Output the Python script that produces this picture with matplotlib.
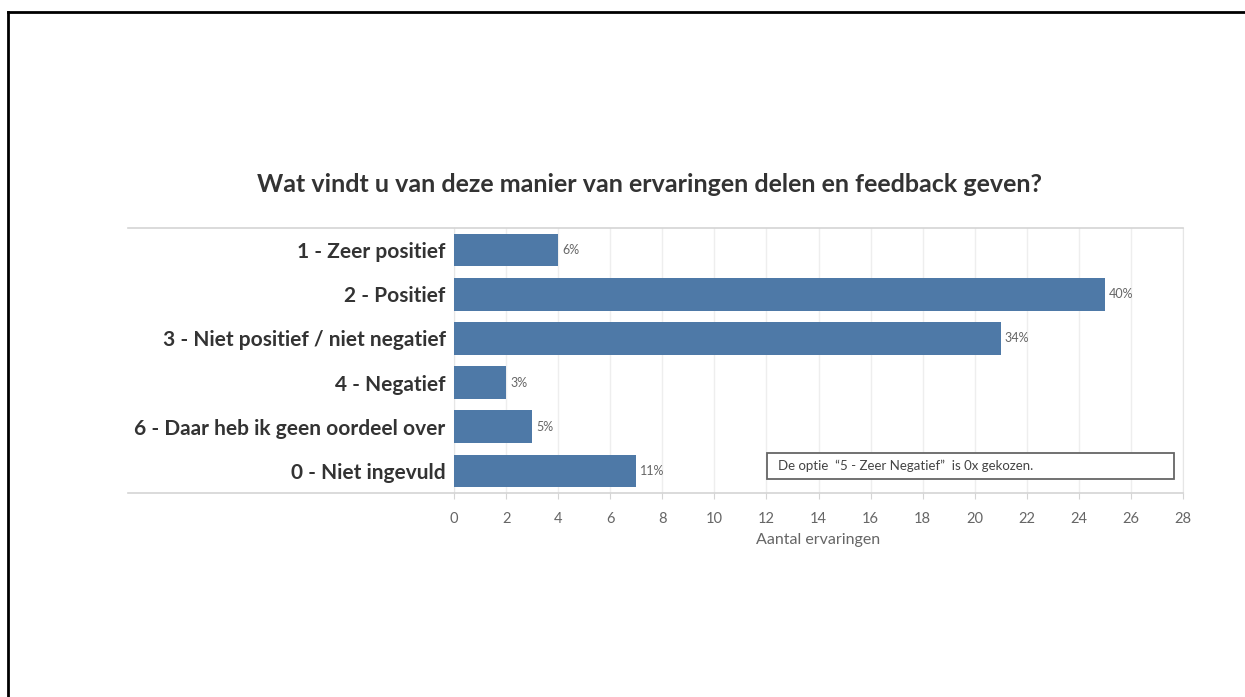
"""Staafdiagram: waardering van ervaringen delen en feedback geven."""

import matplotlib
matplotlib.use("Agg")
import matplotlib.pyplot as plt
from matplotlib.lines import Line2D
from matplotlib.patches import Rectangle

# Gegevens
categorieen = [
    "1 - Zeer positief",
    "2 - Positief",
    "3 - Niet positief / niet negatief",
    "4 - Negatief",
    "6 - Daar heb ik geen oordeel over",
    "0 - Niet ingevuld",
]
aantallen = [4, 25, 21, 2, 3, 7]
percentages = ["6%", "40%", "34%", "3%", "5%", "11%"]
x_ticks = list(range(0, 29, 2))

TITEL = "Wat vindt u van deze manier van ervaringen delen en feedback geven?"
NOTITIE = "De optie  \u201c5 - Zeer Negatief\u201d  is 0x gekozen."

BLAUW = "#4e79a7"
GRIJS_TEKST = "#666666"
DONKER = "#333333"
LIJN = "#d4d4d4"
GRID = "#eeeeee"

plt.rcParams["font.family"] = ["Lato", "DejaVu Sans"]

fig = plt.figure(figsize=(12.45, 6.97), dpi=100)
ax = fig.add_axes([0.3647, 0.2927, 0.5855, 0.3802])

y = list(range(len(categorieen)))
ax.barh(y, aantallen, height=0.74, color=BLAUW, zorder=3)
ax.set_ylim(len(categorieen) - 0.5, -0.5)
ax.set_xlim(0, 28)

# percentage-labels naast de balken
for yi, n, p in zip(y, aantallen, percentages):
    ax.text(n + 0.15, yi, p, va="center", ha="left", fontsize=9,
            color=GRIJS_TEKST, zorder=4)

# categorie-labels
ax.set_yticks(y)
ax.set_yticklabels(categorieen, fontsize=15, fontweight="bold", color=DONKER)
ax.tick_params(axis="y", length=0, pad=6)

ax.set_xticks(x_ticks)
ax.set_xticklabels([str(t) for t in x_ticks], fontsize=10.5, color=GRIJS_TEKST)
ax.tick_params(axis="x", length=4, color=LIJN, pad=10)
ax.set_xlabel("Aantal ervaringen", fontsize=11.5, color=GRIJS_TEKST, labelpad=5)

ax.grid(True, axis="x", color=GRID, lw=1, zorder=0)
for kant in ["top", "bottom"]:
    ax.spines[kant].set_visible(False)
ax.spines["left"].set_color("#e6e6e6")
ax.spines["right"].set_color("#e6e6e6")

# horizontale lijnen boven en onder, doorlopend onder de labels
for yy in [0.6729, 0.2927]:
    fig.add_artist(Line2D([128 / 1245, 0.9502], [yy, yy], color=LIJN, lw=1.2))

# notitie-kader
ax.add_patch(Rectangle((0.43, 0.053), 0.557, 0.098, transform=ax.transAxes,
                       facecolor="white", edgecolor="#666666", lw=1.3, zorder=5))
ax.text(0.445, 0.102, NOTITIE, transform=ax.transAxes, fontsize=9.5,
        color="#444444", va="center", ha="left", zorder=6)

# titel
fig.text(0.522, 1 - 184 / 697, TITEL, ha="center", va="center",
         fontsize=18, fontweight="bold", color=DONKER)

# zwart kader van de schermafdruk
fig.add_artist(Line2D([8 / 1245, 1.0], [1 - 12 / 697, 1 - 12 / 697],
                      color="black", lw=2))
fig.add_artist(Line2D([8 / 1245, 8 / 1245], [0, 1 - 12 / 697],
                      color="black", lw=2))

fig.savefig("out.png", dpi=100, facecolor="white")
